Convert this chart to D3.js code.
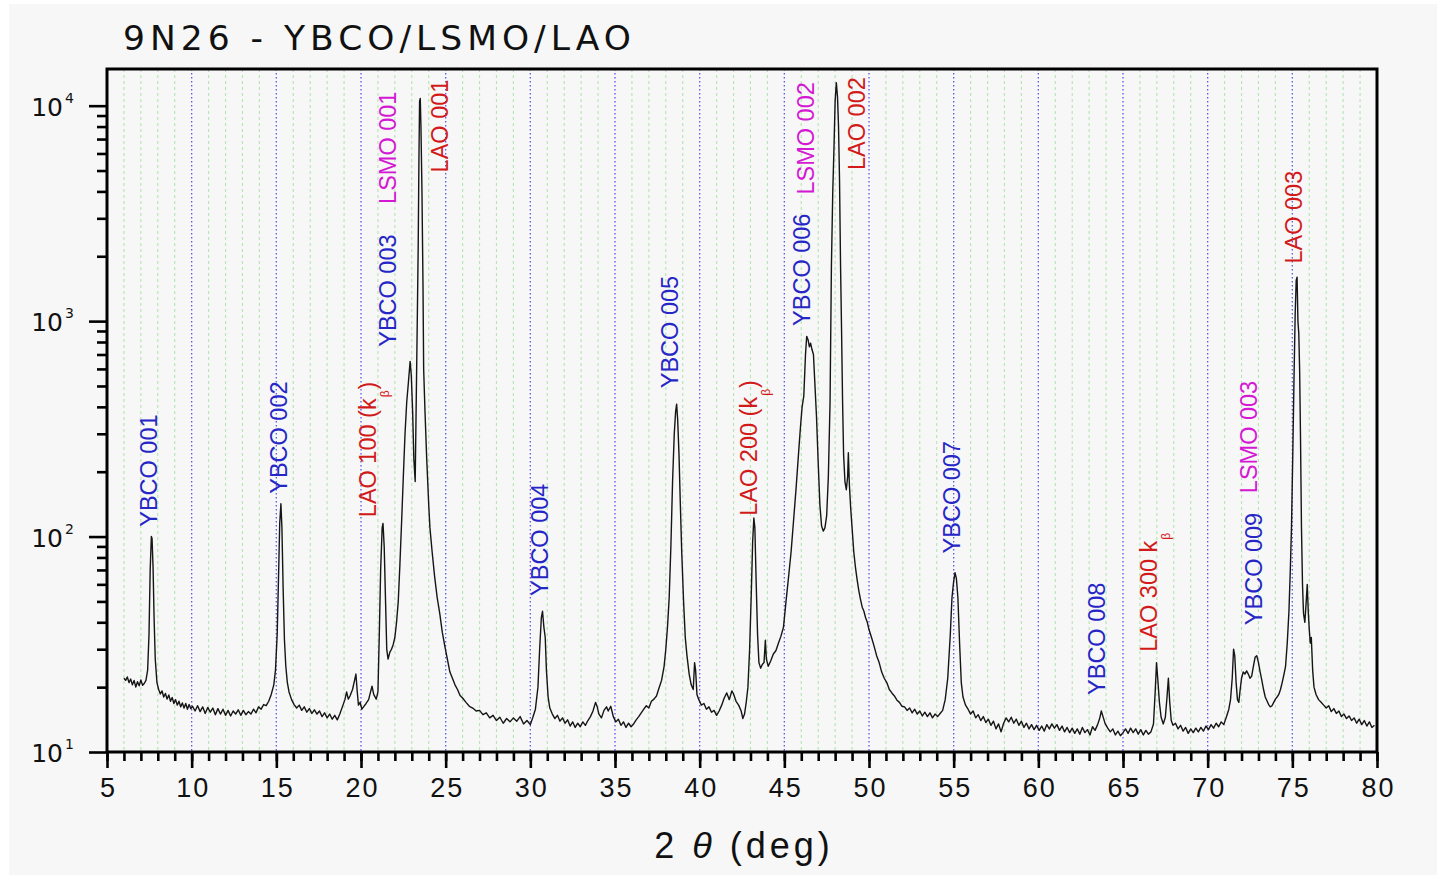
<!DOCTYPE html>
<html>
<head>
<meta charset="utf-8">
<script src="https://cdn.jsdelivr.net/npm/d3@7"></script>
<style>
  html, body { margin: 0; padding: 0; background: #ffffff; }
  svg { display: block; font-family: "Liberation Sans", Arial, Helvetica, sans-serif; }
</style>
</head>
<body>
<svg id="chart" width="1437" height="875"></svg>
<script>
// ---- data -------------------------------------------------------------
const chartTitle = "9N26 - YBCO/LSMO/LAO";
const xAxisTitle = ["2 ", "θ", " (deg)"];

// 2θ (deg), intensity (counts)
const scan = [
  [6.0,22],[6.1,21.5],[6.2,22.3],[6.3,21],[6.4,21.8],[6.5,20.5],[6.6,21.5],[6.7,20],[6.8,21.2],[6.9,20.3],
  [7.0,21.6],[7.1,20.4],[7.2,20.8],[7.3,21.5],[7.4,24],[7.48,35],[7.55,70],[7.62,100],[7.66,98],[7.72,72],
  [7.78,42],[7.85,27],[7.95,21],[8.05,19.5],[8.15,18.6],[8.25,19.2],[8.35,18],[8.45,18.7],[8.55,17.6],[8.65,18.4],
  [8.75,17.2],[8.85,17.9],[8.95,16.8],[9.05,17.5],[9.15,16.5],[9.25,17.2],[9.35,16.2],[9.45,16.9],[9.55,16],[9.65,16.8],
  [9.75,15.8],[9.85,16.6],[9.95,15.9],[10.05,16.3],[10.2,15.5],[10.35,16.4],[10.5,15.4],[10.65,16.2],[10.8,15.1],[10.95,16.1],
  [11.1,15.3],[11.25,16],[11.4,14.9],[11.55,15.9],[11.7,15],[11.85,15.8],[12.0,14.8],[12.15,15.6],[12.3,14.7],[12.45,15.5],
  [12.6,15],[12.75,15.7],[12.9,14.8],[13.05,15.6],[13.2,14.9],[13.35,15.4],[13.5,15],[13.65,15.8],[13.8,15.2],[13.95,16.2],
  [14.1,15.8],[14.25,16.6],[14.4,16.4],[14.55,17.2],[14.7,18.5],[14.85,20.5],[14.95,24],[15.05,35],[15.12,60],[15.2,115],
  [15.27,142],[15.33,110],[15.4,58],[15.48,33],[15.56,25],[15.65,21],[15.75,19],[15.9,17.5],[16.05,16.6],[16.2,16],
  [16.35,16.5],[16.5,15.6],[16.65,16.2],[16.8,15.3],[16.95,15.9],[17.1,15.1],[17.25,15.7],[17.4,15],[17.55,15.5],[17.7,14.6],
  [17.85,15.2],[18.0,14.4],[18.15,15],[18.3,14.2],[18.45,14.8],[18.6,14.1],[18.75,15],[18.9,16.2],[19.05,17.5],[19.15,19],
  [19.25,17.6],[19.35,18.2],[19.5,19.5],[19.62,21.5],[19.7,23],[19.78,19],[19.85,16.5],[19.95,17],[20.05,15.8],[20.15,16.2],
  [20.3,16.8],[20.45,17.5],[20.55,18.8],[20.65,20.2],[20.75,18.5],[20.9,17.6],[21.0,19],[21.08,35],[21.16,70],[21.25,110],
  [21.3,115],[21.37,90],[21.45,50],[21.52,30],[21.6,27],[21.7,29],[21.8,30],[21.9,31.5],[22.0,34],[22.1,40],
  [22.2,50],[22.3,75],[22.4,118],[22.5,190],[22.6,300],[22.7,420],[22.8,520],[22.9,650],[22.97,560],[23.05,380],
  [23.12,230],[23.2,180],[23.27,480],[23.33,1100],[23.38,2300],[23.42,5500],[23.46,10500],[23.5,10800],[23.54,8000],[23.6,4000],
  [23.66,1500],[23.7,600],[23.78,380],[23.88,230],[24.0,140],[24.07,110],[24.2,85],[24.35,65],[24.5,52],[24.65,44],
  [24.8,36],[24.95,31],[25.1,27],[25.25,23.5],[25.4,22],[25.55,20.5],[25.7,19.5],[25.85,18.3],[26.0,17.8],[26.2,17],
  [26.4,16.3],[26.6,16],[26.8,15.5],[27.0,15.6],[27.2,14.9],[27.4,15.2],[27.6,14.4],[27.8,14.8],[28.0,14],[28.2,14.5],
  [28.4,13.6],[28.6,14.3],[28.8,13.8],[29.0,14.4],[29.2,13.9],[29.4,14.6],[29.6,13.5],[29.8,14],[30.0,13.4],[30.15,14.5],
  [30.3,15.8],[30.45,20],[30.55,30],[30.65,42],[30.72,45],[30.8,38],[30.88,34],[30.95,24],[31.05,18],[31.15,16],
  [31.3,15],[31.45,14.3],[31.6,14.8],[31.75,13.9],[31.9,14.4],[32.05,13.6],[32.2,14.1],[32.35,13.2],[32.5,13.8],[32.65,13],
  [32.8,13.6],[32.95,13.1],[33.1,13.8],[33.25,13.3],[33.4,14],[33.55,14.6],[33.7,15.5],[33.85,17],[33.95,16.2],[34.05,15],
  [34.2,14.4],[34.35,15.6],[34.5,16.2],[34.6,15.5],[34.75,16.3],[34.9,14.6],[35.05,13.8],[35.2,14.2],[35.35,13.3],[35.5,13.8],
  [35.65,13],[35.8,13.6],[35.95,13.1],[36.1,13.5],[36.25,14.1],[36.4,14.6],[36.55,15.2],[36.7,15.8],[36.85,16.4],[37.0,16],
  [37.15,17.2],[37.3,17.6],[37.45,18.2],[37.6,19.8],[37.75,21.5],[37.9,25],[38.0,30],[38.1,38],[38.2,52],[38.3,90],
  [38.4,180],[38.5,300],[38.58,380],[38.64,412],[38.7,350],[38.78,240],[38.86,140],[38.94,85],[39.05,50],[39.15,34],
  [39.25,28],[39.38,23],[39.5,20.5],[39.62,19.5],[39.7,26],[39.76,24],[39.84,18.5],[39.95,17.5],[40.1,16.5],[40.25,16.8],
  [40.4,15.8],[40.55,16.2],[40.7,15.3],[40.85,15.6],[41.0,14.8],[41.15,15.5],[41.3,16.5],[41.45,17.8],[41.6,18.8],[41.75,17.5],
  [41.9,19.2],[42.0,18.6],[42.15,17.2],[42.3,16.5],[42.45,15.5],[42.55,14.3],[42.65,15],[42.75,17],[42.85,20],[42.95,30],
  [43.05,55],[43.13,95],[43.2,122],[43.26,110],[43.34,60],[43.42,35],[43.5,26],[43.6,24.5],[43.7,25.5],[43.8,26],
  [43.88,33],[43.94,27],[44.05,25],[44.2,26.5],[44.35,28.5],[44.5,29.5],[44.65,32],[44.8,34.5],[44.95,38],[45.1,50],
  [45.25,65],[45.4,85],[45.55,120],[45.7,170],[45.85,250],[45.95,320],[46.05,400],[46.15,450],[46.25,700],[46.32,850],
  [46.4,820],[46.48,760],[46.55,790],[46.63,740],[46.72,700],[46.8,520],[46.9,360],[47.0,220],[47.1,140],[47.2,112],
  [47.3,106],[47.4,110],[47.5,125],[47.6,190],[47.7,420],[47.78,1800],[47.86,4000],[47.93,6300],[48.0,10500],[48.07,12800],
  [48.14,11000],[48.2,8000],[48.26,4500],[48.32,1800],[48.38,900],[48.44,420],[48.5,240],[48.58,180],[48.66,165],[48.74,190],
  [48.78,245],[48.84,175],[48.92,135],[49.0,110],[49.1,85],[49.2,72],[49.3,63],[49.4,56],[49.5,51],[49.6,47],
  [49.7,45],[49.8,42],[49.9,40],[50.0,37],[50.15,34],[50.3,31],[50.45,28],[50.6,26],[50.75,23.5],[50.9,22],
  [51.05,21],[51.2,19.5],[51.35,18.8],[51.5,18.2],[51.65,17.4],[51.8,17],[51.95,16.3],[52.1,16.2],[52.25,15.6],[52.4,16],
  [52.55,15.2],[52.7,15.8],[52.85,15],[53.0,15.5],[53.15,14.7],[53.3,15.3],[53.45,14.6],[53.6,15.2],[53.75,14.4],[53.9,15],
  [54.05,14.6],[54.2,15.1],[54.35,15.6],[54.5,17.5],[54.65,22],[54.8,35],[54.9,52],[55.0,62],[55.08,68],[55.16,64],
  [55.25,52],[55.35,32],[55.45,21],[55.55,18],[55.7,16.5],[55.85,15.8],[56.0,15],[56.15,15.5],[56.3,14.4],[56.45,14.9],
  [56.6,14],[56.75,14.6],[56.9,13.7],[57.05,14.2],[57.2,13.3],[57.35,13.9],[57.5,12.8],[57.65,13.5],[57.8,12.4],[57.95,13.6],
  [58.1,14.4],[58.25,13.8],[58.4,14.5],[58.55,13.6],[58.7,14.2],[58.85,13.3],[59.0,13.9],[59.15,13],[59.3,13.6],[59.45,12.8],
  [59.6,13.4],[59.75,12.7],[59.9,13.3],[60.05,12.6],[60.2,13.2],[60.35,12.5],[60.5,13.4],[60.65,12.8],[60.8,13.5],[60.95,12.9],
  [61.1,13.4],[61.25,12.6],[61.4,13.2],[61.55,12.4],[61.7,13],[61.85,12.3],[62.0,12.9],[62.15,12.2],[62.3,12.8],[62.45,12.1],
  [62.6,13],[62.75,12.3],[62.9,12.7],[63.05,12],[63.2,13.1],[63.35,12.6],[63.5,13.4],[63.62,14.3],[63.72,15.5],[63.82,14.6],
  [63.95,13.5],[64.1,12.9],[64.25,12.4],[64.4,12.8],[64.55,12],[64.7,12.5],[64.85,11.9],[65.0,12.3],[65.15,12.8],[65.3,12.2],
  [65.45,12.9],[65.6,12.3],[65.75,12.8],[65.9,12.1],[66.05,12.7],[66.2,12],[66.35,12.6],[66.5,12.1],[66.65,12.4],[66.8,13.5],
  [66.9,19],[66.98,26],[67.05,22],[67.15,17],[67.25,14.5],[67.38,13.5],[67.5,14.5],[67.6,18],[67.68,22],[67.76,17],
  [67.85,14],[67.95,13.3],[68.1,13.6],[68.25,12.8],[68.4,13.3],[68.55,12.5],[68.7,13],[68.85,12.2],[69.0,12.8],[69.15,12.3],
  [69.3,12.9],[69.45,12.4],[69.6,13],[69.75,12.5],[69.9,13.2],[70.05,12.7],[70.2,13.4],[70.35,12.9],[70.5,13.6],[70.65,13.1],
  [70.8,13.8],[70.95,13.4],[71.1,14.5],[71.25,15.8],[71.35,17.5],[71.45,22],[71.53,30],[71.6,28],[71.68,21],[71.76,17.5],
  [71.84,17],[71.92,19.5],[72.0,22],[72.1,23.5],[72.2,23],[72.3,23.8],[72.4,23],[72.5,22],[72.6,22.5],[72.7,25],
  [72.8,27.5],[72.9,28],[73.0,26],[73.1,23.5],[73.2,21.5],[73.3,19.5],[73.4,18],[73.5,17.3],[73.6,16.6],[73.7,16.2],
  [73.8,16.4],[73.9,17],[74.0,17.6],[74.1,18],[74.2,18.5],[74.3,19.5],[74.4,21],[74.5,22.8],[74.6,25],[74.7,32],
  [74.8,45],[74.88,70],[74.95,110],[75.03,250],[75.1,550],[75.17,1100],[75.23,1550],[75.28,1600],[75.33,1000],[75.38,880],
  [75.43,600],[75.48,300],[75.54,110],[75.6,60],[75.66,44],[75.74,40],[75.82,50],[75.88,60],[75.94,45],[76.0,37],
  [76.06,32],[76.12,34],[76.2,24],[76.28,20],[76.4,18.5],[76.55,17.5],[76.7,17],[76.85,16.5],[77.0,16],[77.15,16.4],
  [77.3,15.4],[77.45,15.9],[77.6,15.1],[77.75,15.5],[77.9,14.6],[78.05,15],[78.2,14.3],[78.35,14.7],[78.5,14],[78.65,14.4],
  [78.8,13.6],[78.95,14.2],[79.1,13.4],[79.25,14],[79.4,13.2],[79.55,13.8],[79.7,13],[79.85,13.3]
];

// peak assignments: phase, label text (optional subscript β), 2θ of label, intensity where label starts
const phases = ["YBCO", "LSMO", "LAO"];
const peakLabels = [
  { phase: "YBCO", text: "YBCO 001", at: 7.46,  from: 111 },
  { phase: "YBCO", text: "YBCO 002", at: 15.12, from: 158 },
  { phase: "LAO",  text: "LAO 100 (k", sub: "β", tail: ")", at: 20.38, from: 123 },
  { phase: "YBCO", text: "YBCO 003", at: 21.56, from: 760 },
  { phase: "LSMO", text: "LSMO 001", at: 21.56, from: 3500 },
  { phase: "LAO",  text: "LAO 001",  at: 24.64, from: 4900 },
  { phase: "YBCO", text: "YBCO 004", at: 30.52, from: 53 },
  { phase: "YBCO", text: "YBCO 005", at: 38.2,  from: 488 },
  { phase: "LAO",  text: "LAO 200 (k", sub: "β", tail: ")", at: 42.87, from: 125 },
  { phase: "YBCO", text: "YBCO 006", at: 46.02, from: 950 },
  { phase: "LSMO", text: "LSMO 002", at: 46.26, from: 3870 },
  { phase: "LAO",  text: "LAO 002",  at: 49.29, from: 5030 },
  { phase: "YBCO", text: "YBCO 007", at: 54.88, from: 83.5 },
  { phase: "YBCO", text: "YBCO 008", at: 63.45, from: 18.4 },
  { phase: "LAO",  text: "LAO 300 k", sub: "β", tail: "", at: 66.5, from: 29.2 },
  { phase: "YBCO", text: "YBCO 009", at: 72.68, from: 38.8 },
  { phase: "LSMO", text: "LSMO 003", at: 72.4,  from: 159 },
  { phase: "LAO",  text: "LAO 003",  at: 75.06, from: 1850 }
];

const xMajorTicks = [5, 10, 15, 20, 25, 30, 35, 40, 45, 50, 55, 60, 65, 70, 75, 80];
const yDecades = [1, 2, 3, 4];

// ---- layout -----------------------------------------------------------
const W = 1437, H = 875;
const plot = { left: 107, top: 69, right: 1377, bottom: 752 };
const phaseColor = d3.scaleOrdinal(phases, ["#2626c6", "#d418d4", "#d21a1a"]);

const svg = d3.select("#chart");

svg.append("rect").attr("x", 9).attr("y", 4).attr("width", W - 9).attr("height", H - 4)
  .attr("fill", "#f7f7f7");

const x = d3.scaleLinear().domain([5, 80]).range([plot.left, plot.right]);
const y = d3.scaleLog().domain([10, 14800]).range([plot.bottom, plot.top]);

// vertical grid: light green every degree, blue every 5 degrees
const gridValues = d3.range(6, 80);
svg.append("g").selectAll("line")
  .data(gridValues)
  .join("line")
  .attr("x1", d => x(d)).attr("x2", d => x(d))
  .attr("y1", plot.top).attr("y2", plot.bottom)
  .attr("stroke", d => d % 5 === 0 ? "#5a5ae6" : "#b4e4b0")
  .attr("stroke-width", d => d % 5 === 0 ? 1.3 : 1.1)
  .attr("stroke-dasharray", d => d % 5 === 0 ? "1.5,2.5" : "3,3");

// scan curve
svg.append("clipPath").attr("id", "plotClip")
  .append("rect").attr("x", plot.left).attr("y", plot.top)
  .attr("width", plot.right - plot.left).attr("height", plot.bottom - plot.top);

const line = d3.line().x(d => x(d[0])).y(d => y(d[1]));
svg.append("path")
  .datum(scan)
  .attr("clip-path", "url(#plotClip)")
  .attr("fill", "none")
  .attr("stroke", "#151515")
  .attr("stroke-width", 1.4)
  .attr("stroke-linejoin", "round")
  .attr("d", line);

// peak labels
const labels = svg.append("g").attr("font-size", 23.5);
peakLabels.forEach(p => {
  const t = labels.append("text")
    .attr("transform", `translate(${x(p.at)},${y(p.from)}) rotate(-90)`)
    .attr("dy", "0.36em")
    .attr("fill", phaseColor(p.phase))
    .text(p.text);
  if (p.sub) {
    t.append("tspan").attr("font-size", 12).attr("dy", 13).attr("dx", 1).text(p.sub);
    if (p.tail) t.append("tspan").attr("dy", -13).attr("dx", 1).text(p.tail);
  }
});

// axes
const xAxisMinor = d3.axisBottom(x).tickValues(d3.range(5, 81)).tickSize(9).tickFormat("");
const xAxisMajor = d3.axisBottom(x).tickValues(xMajorTicks).tickSize(16).tickPadding(10)
  .tickFormat(d3.format("d"));

const gxMinor = svg.append("g").attr("transform", `translate(0,${plot.bottom})`).call(xAxisMinor);
const gxMajor = svg.append("g").attr("transform", `translate(0,${plot.bottom})`).call(xAxisMajor);
[gxMinor, gxMajor].forEach(g => {
  g.select(".domain").remove();
  g.selectAll(".tick line").attr("stroke", "#000").attr("stroke-width", 2.6);
});
gxMajor.selectAll(".tick text")
  .attr("font-size", 27).attr("fill", "#111")
  .attr("font-family", "'Liberation Sans', Arial, sans-serif")
  .attr("letter-spacing", 2).attr("dx", 1)
  .attr("dy", "0.72em");

const yMinorValues = [];
yDecades.forEach(e => {
  for (let m = 2; m <= 9; m++) {
    const v = m * Math.pow(10, e);
    if (v <= y.domain()[1]) yMinorValues.push(v);
  }
});
const yMajorValues = yDecades.map(e => Math.pow(10, e));

const yAxisMinor = d3.axisLeft(y).tickValues(yMinorValues).tickSize(10).tickFormat("");
const yAxisMajor = d3.axisLeft(y).tickValues(yMajorValues).tickSize(18).tickFormat("");
const gyMinor = svg.append("g").attr("transform", `translate(${plot.left},0)`).call(yAxisMinor);
const gyMajor = svg.append("g").attr("transform", `translate(${plot.left},0)`).call(yAxisMajor);
[gyMinor, gyMajor].forEach(g => {
  g.select(".domain").remove();
  g.selectAll(".tick line").attr("stroke", "#000").attr("stroke-width", 2.6);
});

// y tick labels as powers of ten
const yLab = svg.append("g").attr("fill", "#111").attr("font-family", "'DejaVu Sans', sans-serif");
yDecades.forEach(e => {
  const py = y(Math.pow(10, e));
  yLab.append("text").attr("x", 63).attr("y", py + 10)
    .attr("text-anchor", "end").attr("font-size", 25).text("10");
  yLab.append("text").attr("x", 65).attr("y", py - 3)
    .attr("font-size", 14).text(e);
});

// frame
svg.append("rect")
  .attr("x", plot.left).attr("y", plot.top)
  .attr("width", plot.right - plot.left).attr("height", plot.bottom - plot.top)
  .attr("fill", "none").attr("stroke", "#000").attr("stroke-width", 3);

// titles
svg.append("text")
  .attr("x", 123).attr("y", 50)
  .attr("font-family", "'DejaVu Sans', sans-serif")
  .attr("font-size", 34.5).attr("letter-spacing", 5).attr("fill", "#111")
  .text(chartTitle);

const xt = svg.append("text")
  .attr("x", (plot.left + plot.right) / 2 + 2).attr("y", 858)
  .attr("text-anchor", "middle")
  .attr("font-size", 36).attr("letter-spacing", 4).attr("fill", "#111");
xt.append("tspan").text(xAxisTitle[0]);
xt.append("tspan").attr("font-style", "italic").text(xAxisTitle[1]);
xt.append("tspan").text(xAxisTitle[2]);
</script>
</body>
</html>
